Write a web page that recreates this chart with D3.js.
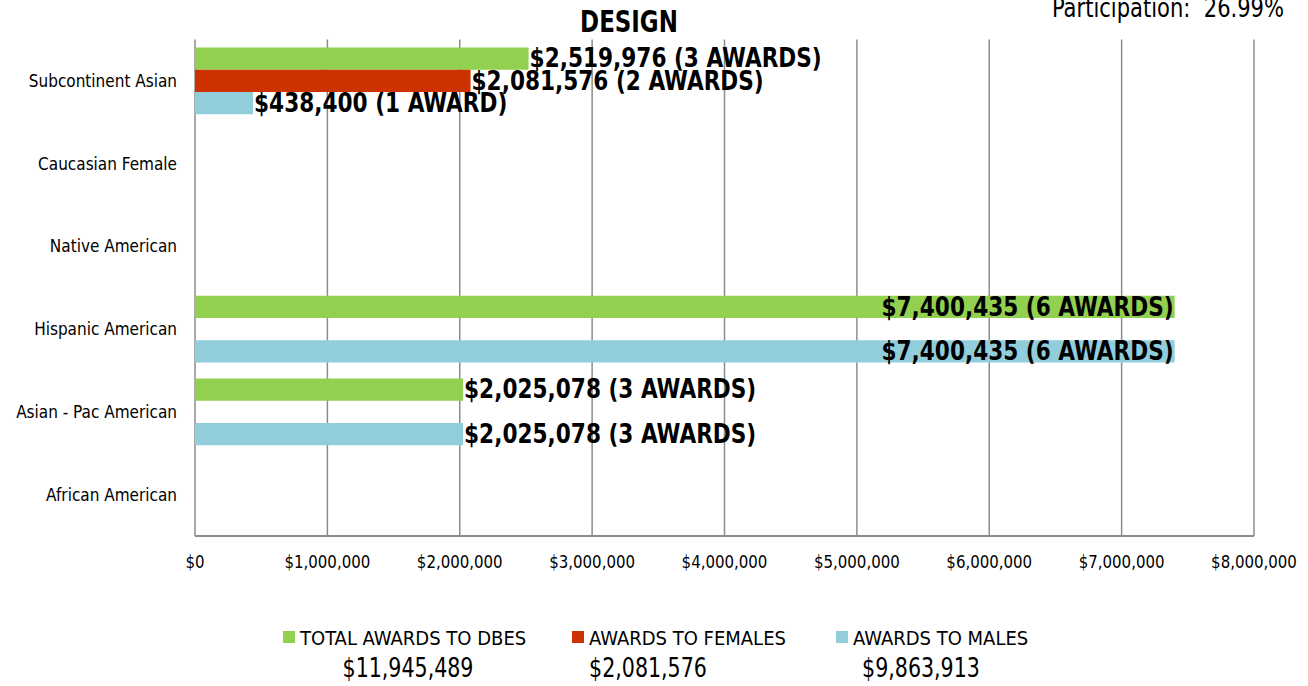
<!DOCTYPE html>
<html>
<head>
<meta charset="utf-8">
<script src="https://cdn.jsdelivr.net/npm/d3@7"></script>
<style>
  body { margin: 0; background: #fff; }
  svg { font-family: "Liberation Sans Narrow", "Arial Narrow", "DejaVu Sans Condensed", sans-serif; }
</style>
</head>
<body>
<svg id="chart" width="1308" height="686"></svg>
<script>
// categories, bottom to top as in the picture
const categories = ["African American", "Asian - Pac American", "Hispanic American",
    "Native American", "Caucasian Female", "Subcontinent Asian"];
const seriesNames = ["TOTAL AWARDS TO DBES", "AWARDS TO FEMALES", "AWARDS TO MALES"];
const seriesColors = ["#92d050", "#cc3300", "#92cddc"];

// dollar values per category, same order as categories
const totalValues  = [0, 2025078, 7400435, 0, 0, 2519976];
const femaleValues = [0, 0, 0, 0, 0, 2081576];
const maleValues   = [0, 2025078, 7400435, 0, 0, 438400];
// number of awards per category
const totalCounts  = [0, 3, 6, 0, 0, 3];
const femaleCounts = [0, 0, 0, 0, 0, 2];
const maleCounts   = [0, 3, 6, 0, 0, 1];

const xTicks = [0, 1000000, 2000000, 3000000, 4000000, 5000000, 6000000, 7000000, 8000000];
const chartTitle = "DESIGN";
const participation = "Participation:  26.99%";

const seriesValues = [totalValues, femaleValues, maleValues];
const seriesCounts = [totalCounts, femaleCounts, maleCounts];

const margin = {top: 39.5, left: 195, right: 54, bottom: 150};
const width = 1308 - margin.left - margin.right,
    height = 686 - margin.top - margin.bottom;

const svg = d3.select("#chart");
const g = svg.append("g")
    .attr("transform", `translate(${margin.left}, ${margin.top})`);

const fmt = d3.format("$,");

// squeeze text horizontally, the original uses a narrow font
function narrow(sel, factor) {
    sel.each(function() {
        const w = this.getComputedTextLength();
        d3.select(this)
            .attr("textLength", w * factor)
            .attr("lengthAdjust", "spacingAndGlyphs");
    });
}

// X axis
const xScale = d3.scaleLinear()
    .domain([0, 8000000])
    .range([0, width]);

// Y axis (top = last category)
const yScale = d3.scaleBand()
    .domain(categories.slice().reverse())
    .range([0, height]);

const inner = d3.scaleBand()
    .domain(seriesNames)
    .range([8, yScale.bandwidth() - 8]);

// grid lines
g.selectAll(".grid")
    .data(xTicks)
    .enter()
    .append("line")
    .attr("class", "grid")
    .attr("x1", d => xScale(d))
    .attr("x2", d => xScale(d))
    .attr("y1", 0)
    .attr("y2", height)
    .attr("stroke", "#8c8c8c")
    .attr("stroke-width", 1.5);

// bottom axis line
g.append("line")
    .attr("x1", 0).attr("x2", width)
    .attr("y1", height).attr("y2", height)
    .attr("stroke", "#8c8c8c")
    .attr("stroke-width", 2);

// tick labels
g.selectAll(".xlabel")
    .data(xTicks)
    .enter()
    .append("text")
    .attr("class", "xlabel")
    .attr("x", d => xScale(d))
    .attr("y", height + 32)
    .attr("text-anchor", "middle")
    .style("font-size", "17px")
    .text(d => fmt(d))
    .call(narrow, 0.98);

// category labels
g.selectAll(".ylabel")
    .data(categories)
    .enter()
    .append("text")
    .attr("class", "ylabel")
    .attr("x", -18)
    .attr("y", d => yScale(d) + yScale.bandwidth() / 2)
    .attr("dy", "0.35em")
    .attr("text-anchor", "end")
    .style("font-size", "17px")
    .text(d => d);

// Bars
const barData = [];
categories.forEach((c, i) => {
    seriesNames.forEach((s, j) => {
        if (seriesValues[j][i] > 0) {
            barData.push({cat: c, series: s, color: seriesColors[j],
                value: seriesValues[j][i], count: seriesCounts[j][i]});
        }
    });
});

g.selectAll(".bar")
    .data(barData)
    .enter()
    .append("rect")
    .attr("class", "bar")
    .attr("x", xScale(0))
    .attr("y", d => yScale(d.cat) + inner(d.series))
    .attr("width", d => xScale(d.value))
    .attr("height", inner.bandwidth())
    .attr("fill", d => d.color);

// bar labels
g.selectAll(".blabel")
    .data(barData)
    .enter()
    .append("text")
    .attr("class", "blabel")
    .attr("x", d => xScale(d.value) + 1)
    .attr("y", d => yScale(d.cat) + inner(d.series) + inner.bandwidth() / 2)
    .attr("dy", "0.34em")
    .style("font-size", "26px")
    .style("font-weight", "bold")
    .text(d => `${fmt(d.value)} (${d.count} ${d.count === 1 ? "AWARD" : "AWARDS"})`)
    .call(narrow, 0.925)
    .each(function(d) {
        const w = +d3.select(this).attr("textLength");
        if (xScale(d.value) + w > width) {
            d3.select(this)
                .attr("x", xScale(d.value) - 1)
                .attr("text-anchor", "end");
        }
    });

// title
svg.append("text")
    .attr("x", 629)
    .attr("y", 32)
    .attr("text-anchor", "middle")
    .style("font-size", "30px")
    .style("font-weight", "bold")
    .text(chartTitle)
    .call(narrow, 0.85);

svg.append("text")
    .attr("x", 1284)
    .attr("y", 17)
    .attr("text-anchor", "end")
    .style("font-size", "26px")
    .style("white-space", "pre")
    .text(participation)
    .call(narrow, 0.9);

// legend
const legendX = [283, 572, 836];
const legendValueX = [408, 648, 921];
const legend = svg.selectAll(".legend")
    .data(seriesNames)
    .enter()
    .append("g")
    .attr("class", "legend");

legend.append("rect")
    .attr("x", (d, i) => legendX[i])
    .attr("y", 631)
    .attr("width", 12)
    .attr("height", 12)
    .attr("fill", (d, i) => seriesColors[i]);

legend.append("text")
    .attr("x", (d, i) => legendX[i] + 17)
    .attr("y", 638)
    .attr("dy", "0.35em")
    .style("font-size", "20px")
    .text(d => d);

legend.append("text")
    .attr("x", (d, i) => legendValueX[i])
    .attr("y", 668)
    .attr("dy", "0.35em")
    .attr("text-anchor", "middle")
    .style("font-size", "26px")
    .text((d, i) => fmt(d3.sum(seriesValues[i])))
    .call(narrow, 0.88);
</script>
</body>
</html>
